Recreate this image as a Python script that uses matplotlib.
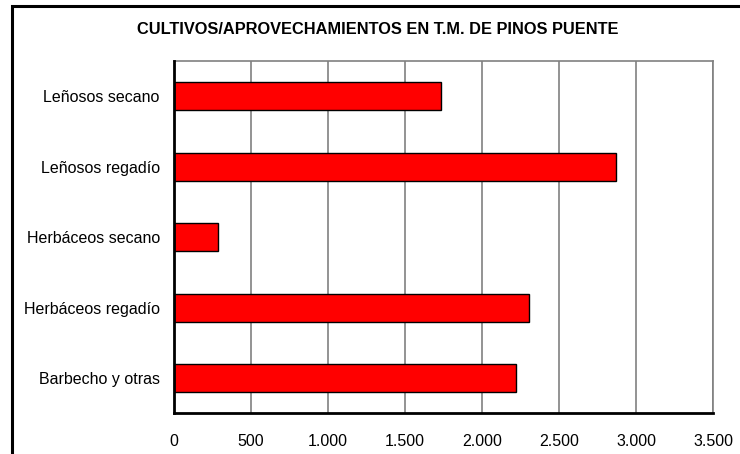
import matplotlib.pyplot as plt
from matplotlib.patches import Rectangle
from matplotlib.ticker import FuncFormatter

plt.rcParams['font.family'] = ['Liberation Sans', 'DejaVu Sans']

# Datos (hectáreas aprox.)
categorias = ["Barbecho y otras", "Herbáceos regadío", "Herbáceos secano",
              "Leñosos regadío", "Leñosos secano"]
superficie = [2220, 2302, 285, 2866, 1733]
ticks_x = [0, 500, 1000, 1500, 2000, 2500, 3000, 3500]

fig = plt.figure(figsize=(7.4, 4.54), dpi=100)
ax = fig.add_axes([0.2347, 0.0896, 0.7292, 0.776])

# marco exterior del gráfico
fig.patches.append(Rectangle((12 / 740, -0.05), 1.1, 1 - 6 / 454 + 0.05,
                             transform=fig.transFigure, fill=False,
                             edgecolor="black", linewidth=2.2))

ax.barh(range(len(categorias)), superficie, height=0.4, color="#ff0000",
        edgecolor="black", linewidth=1, zorder=3)

ax.set_xlim(0, 3500)
ax.set_ylim(-0.5, len(categorias) - 0.5)
ax.set_xticks(ticks_x)
ax.xaxis.set_major_formatter(FuncFormatter(lambda v, p: f"{int(v):,}".replace(",", ".")))
ax.set_yticks(range(len(categorias)))
ax.set_yticklabels(categorias)
ax.tick_params(axis="both", length=0, labelsize=11.5, colors="black")
ax.tick_params(axis="x", pad=15)
ax.tick_params(axis="y", pad=10)

ax.grid(axis="x", color="#808080", linewidth=1.2, zorder=0)
for s in ["top", "right"]:
    ax.spines[s].set_color("#808080")
    ax.spines[s].set_linewidth(1.2)
for s in ["left", "bottom"]:
    ax.spines[s].set_color("black")
    ax.spines[s].set_linewidth(2)
    ax.spines[s].set_zorder(4)

fig.text(0.511, 0.934, "CULTIVOS/APROVECHAMIENTOS EN T.M. DE PINOS PUENTE",
         ha="center", va="center", fontsize=11.8, fontweight="bold")

fig.savefig("out.png", dpi=100)
